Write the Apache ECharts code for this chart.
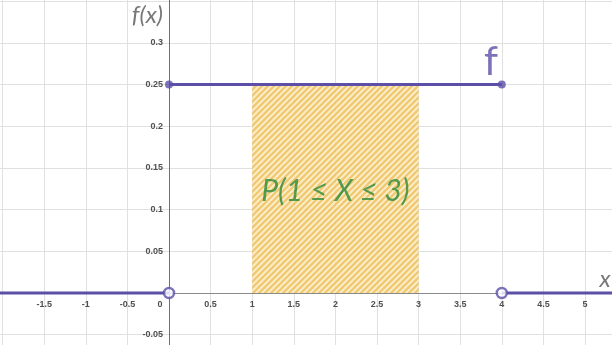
<!DOCTYPE html>
<html>
<head>
<meta charset="utf-8">
<script src="https://cdn.jsdelivr.net/npm/echarts@6/dist/echarts.min.js"></script>
<style>
  html, body { margin: 0; padding: 0; background: #fff; }
  #chart { width: 612px; height: 345px; }
</style>
</head>
<body>
<div id="chart"></div>
<script>
// Uniform density on [a, b] = [0, 4]: f(x) = 1/(b - a) = 0.25, zero elsewhere
const uniformA = 0;
const uniformB = 4;
const density = 0.25;

// Piecewise pieces of f, drawn as separate segments
const leftPiece = [[-2.5, 0], [0, 0]];
const middlePiece = [[0, 0.25], [4, 0.25]];
const rightPiece = [[4, 0], [5.5, 0]];

// Endpoint markers: filled where the value is attained, hollow where it is not
const closedEnds = [[0, 0.25], [4, 0.25]];
const openEnds = [[0, 0], [4, 0]];

// Shaded probability region P(1 <= X <= 3)
const shadeFrom = 1;
const shadeTo = 3;

// Axis ranges and tick steps
const xRange = [-2.5, 5.5];
const yRange = [-0.1, 0.4];
const xStep = 0.5;
const yStep = 0.05;

// Text annotations placed in data space
const titles = [
  { name: 'f(x)', value: [-0.26, 0.333], kind: 'axis' },
  { name: 'x', value: [5.24, 0.0165], kind: 'axis' },
  { name: 'f', value: [3.87, 0.277], kind: 'fn' },
  { name: 'P(1 ≤ X ≤ 3)', value: [2.0, 0.122], kind: 'prob' }
];

const purple = '#5b4fa8';

// Plot box in pixels (extends past the canvas so the visible window is x in [-2.03, 5.33])
const W = 612, H = 345;
const box = { left: -39, top: -40.6, width: 665.6, height: 417 };

// Diagonal hatch tile for the shaded area
function hatchPattern() {
  const s = 6;
  const c = document.createElement('canvas');
  c.width = s; c.height = s;
  const g = c.getContext('2d');
  g.fillStyle = '#fcedc8';
  g.fillRect(0, 0, s, s);
  g.strokeStyle = '#efc462';
  g.lineWidth = 2.3;
  g.beginPath();
  g.moveTo(-1, s + 1); g.lineTo(s + 1, -1);
  g.moveTo(-1, 1); g.lineTo(1, -1);
  g.moveTo(s - 1, s + 1); g.lineTo(s + 1, s - 1);
  g.stroke();
  return c;
}

function near(a, b) { return Math.abs(a - b) < 1e-6; }

// Pixel position of the zero lines, so both axes sit on the origin
const zeroX = box.left + (0 - xRange[0]) / (xRange[1] - xRange[0]) * box.width;
const zeroY = box.top + (yRange[1] - 0) / (yRange[1] - yRange[0]) * box.height;
const xAxisOffset = -((box.top + box.height) - zeroY);
const yAxisOffset = -(zeroX - box.left);

const chart = echarts.init(document.getElementById('chart'), null, { renderer: 'canvas' });

const labelStyles = {
  axis: { fontFamily: 'Lato', fontStyle: 'italic', fontSize: 24, color: '#555' },
  fn: { fontFamily: 'Lato', fontSize: 40, color: purple },
  prob: { fontFamily: 'Lato', fontStyle: 'italic', fontSize: 30, color: '#2a8a3a' }
};

const lineSeries = (data) => ({
  type: 'line',
  data: data,
  showSymbol: false,
  symbol: 'none',
  lineStyle: { color: purple, width: 3 },
  z: 5,
  silent: true,
  animation: false
});

const tickFont = { fontFamily: 'Liberation Sans', fontSize: 9, fontWeight: 'bold', color: '#505050' };

chart.setOption({
  animation: false,
  grid: {
    left: box.left, top: box.top,
    right: W - (box.left + box.width), bottom: H - (box.top + box.height),
    containLabel: false,
    outerBoundsMode: 'none'
  },
  xAxis: {
    type: 'value',
    position: 'bottom',
    offset: xAxisOffset,
    min: xRange[0], max: xRange[1], interval: xStep,
    axisLine: { onZero: false, lineStyle: { color: '#8a8a8a', width: 1 } },
    axisTick: { show: false },
    splitLine: { show: true, lineStyle: { color: '#e0e0e0', width: 1 } },
    axisLabel: Object.assign({
      margin: 7,
      showMinLabel: true, showMaxLabel: true,
      hideOverlap: false,
      formatter: function (v) {
        if (v < -1.75 || v > 5.25) return '';
        if (near(v, 0)) return '{z|0}';
        return String(+v.toFixed(2));
      },
      rich: { z: Object.assign({ padding: [0, 18, 0, 0] }, tickFont) }
    }, tickFont)
  },
  yAxis: {
    type: 'value',
    position: 'left',
    offset: yAxisOffset,
    min: yRange[0], max: yRange[1], interval: yStep,
    axisLine: { onZero: false, lineStyle: { color: '#707070', width: 1 } },
    axisTick: { show: false },
    splitLine: { show: true, lineStyle: { color: '#e0e0e0', width: 1 } },
    axisLabel: Object.assign({
      margin: 6,
      hideOverlap: false,
      formatter: function (v) {
        if (near(v, 0) || v > 0.325 || v < -0.075) return '';
        return String(+v.toFixed(2));
      }
    }, tickFont)
  },
  series: [
    {
      type: 'custom',
      name: 'P(1 ≤ X ≤ 3)',
      data: [[shadeFrom, shadeTo, density]],
      z: 2,
      silent: true,
      renderItem: function (params, api) {
        const p0 = api.coord([api.value(0), api.value(2)]);
        const p1 = api.coord([api.value(1), 0]);
        return {
          type: 'rect',
          shape: { x: p0[0], y: p0[1], width: p1[0] - p0[0], height: p1[1] - p0[1] },
          style: { fill: { image: hatchPattern(), repeat: 'repeat' }, opacity: 0.9 }
        };
      }
    },
    lineSeries(leftPiece),
    lineSeries(middlePiece),
    lineSeries(rightPiece),
    {
      type: 'scatter',
      data: closedEnds,
      symbol: 'circle',
      symbolSize: 8,
      itemStyle: { color: purple },
      z: 6,
      silent: true
    },
    {
      type: 'scatter',
      data: openEnds,
      symbol: 'circle',
      symbolSize: 10,
      itemStyle: { color: '#ffffff', borderColor: purple, borderWidth: 2.5 },
      z: 6,
      silent: true
    },
    {
      type: 'scatter',
      data: titles.map(t => ({
        name: t.name,
        value: t.value,
        label: Object.assign({ show: true, position: 'inside', formatter: '{b}' }, labelStyles[t.kind])
      })),
      symbolSize: 1,
      itemStyle: { color: 'transparent' },
      z: 7,
      silent: true
    }
  ]
});
</script>
</body>
</html>
